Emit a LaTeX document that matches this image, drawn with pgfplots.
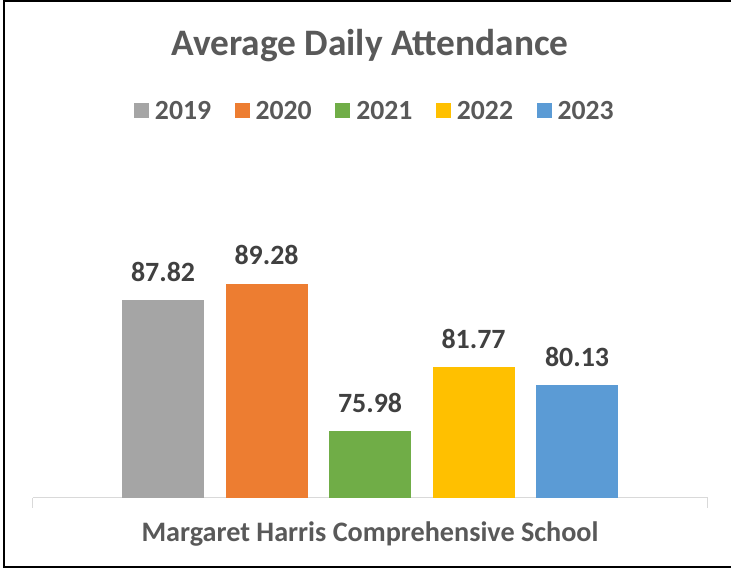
\documentclass[border=0pt]{standalone}
\usepackage{pgfplots}
\pgfplotsset{compat=1.18}
\usepackage{fontspec}
\setmainfont{Carlito}
\definecolor{c2019}{HTML}{A5A5A5}
\definecolor{c2020}{HTML}{ED7D31}
\definecolor{c2021}{HTML}{70AD47}
\definecolor{c2022}{HTML}{FFC000}
\definecolor{c2023}{HTML}{5B9BD5}
\definecolor{txt}{HTML}{595959}
\definecolor{lbl}{HTML}{404040}
\definecolor{axl}{HTML}{D9D9D9}
\begin{document}
\begin{tikzpicture}
\clip (0,0) rectangle (731bp,-569bp);
\fill[white] (0,0) rectangle (731bp,-569bp);
\begin{axis}[
  at={(32.6bp,-497.7bp)}, anchor=south west,
  scale only axis, width=675bp, height=332.7bp,
  ybar=21.5bp, bar width=82bp,
  xmin=-1, xmax=1, ymin=70, ymax=100,
  axis y line=none,
  axis x line*=bottom,
  x axis line style={-, draw=axl, line width=1.3bp},
  xtick={0}, xticklabels={Margaret Harris Comprehensive School},
  major tick length=0pt,
  xticklabel style={anchor=base, yshift=-44bp, font=\fontsize{28.3}{32}\selectfont\bfseries, text=txt},
  extra x ticks={-1,1}, extra x tick labels={},
  extra x tick style={major tick length=10bp, tick align=outside, tick style={draw=axl, line width=1.3bp}},
  title={Average Daily Attendance},
  title style={at={(axis description cs:0.5,1.311)}, anchor=base, font=\fontsize{37.5}{42}\selectfont\bfseries, text=txt},
  legend columns=5,
  legend style={at={(axis description cs:0.507,1.163)}, anchor=center, draw=none, fill=none,
    font=\fontsize{27.8}{32}\selectfont\bfseries, text=txt,
    /tikz/every even column/.append style={column sep=21.5bp},
    /tikz/every odd column/.append style={column sep=4bp}},
  legend image code/.code={\fill[#1,draw=none] (0bp,-7bp) rectangle (15bp,8bp);},
  nodes near coords={\pgfmathprintnumber[fixed,fixed zerofill,precision=2]{\pgfplotspointmeta}},
  /pgf/number format/assume math mode=true,
  nodes near coords style={anchor=base, yshift=19bp, font=\fontsize{28}{32}\selectfont\bfseries, text=lbl},
  clip=false,
]
\addplot[fill=c2019, draw=none] coordinates {(0,87.82)};
\addplot[fill=c2020, draw=none] coordinates {(0,89.28)};
\addplot[fill=c2021, draw=none] coordinates {(0,75.98)};
\addplot[fill=c2022, draw=none] coordinates {(0,81.77)};
\addplot[fill=c2023, draw=none] coordinates {(0,80.13)};
\legend{2019,2020,2021,2022,2023}
\end{axis}
\draw[black, line width=2bp] (3.5bp,-1bp) rectangle (745bp,-566.5bp);
\end{tikzpicture}
\end{document}
